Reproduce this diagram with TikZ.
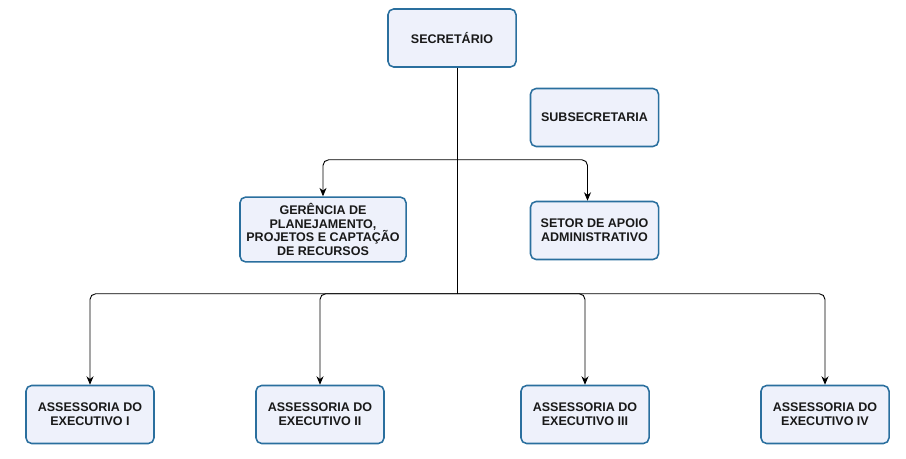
\documentclass[tikz,border=0pt]{standalone}
\usepackage{fontspec}
\setmainfont{Liberation Sans}
\usetikzlibrary{arrows.meta,calc,positioning}
\definecolor{boxfill}{HTML}{EEF1FB}
\definecolor{boxline}{HTML}{2A6F9E}

\begin{document}
\begin{tikzpicture}[x=0.025cm,y=-0.025cm,
  unit/.style={draw=boxline,fill=boxfill,line width=1.1pt,rounded corners=4pt,
    minimum width=3.2cm,minimum height=1.45cm,align=center,text=black!90,
    font=\bfseries\fontsize{8.9}{9.8}\selectfont},
  link/.style={-{Stealth[length=6pt,width=5pt]},line width=0.65pt,rounded corners=4pt}]
\useasboundingbox (0,0) rectangle (906,459);
% top
\node[unit] (S) at (452,38) {SECRET\'ARIO};
\node[unit] (SUB) at (594.5,117.5) {SUBSECRETARIA};
% middle
\node[unit,minimum width=4.15cm,minimum height=1.62cm] (GER) at (323,229.5)
  {GER\^ENCIA DE\\PLANEJAMENTO,\\PROJETOS E CAPTA\c{C}\~AO\\DE RECURSOS};
\node[unit] (SAA) at (594.5,230.5) {SETOR DE APOIO\\ADMINISTRATIVO};
% bottom
\node[unit] (A1) at (90,414.5) {ASSESSORIA DO\\EXECUTIVO I};
\node[unit] (A2) at (320,414.5) {ASSESSORIA DO\\EXECUTIVO II};
\node[unit] (A3) at (585,414.5) {ASSESSORIA DO\\EXECUTIVO III};
\node[unit] (A4) at (825,414.5) {ASSESSORIA DO\\EXECUTIVO IV};
% trunk
\coordinate (T) at ($(S.south)+(5,0)$);
\coordinate (J1) at ($(T)+(0,92)$);
\coordinate (J2) at ($(T)+(0,226)$);
\draw[line width=0.65pt] (T) -- (J2);
\draw[link] (J1) -| (GER.north);
\draw[link] (J1) -| ($(SAA.north)+(-7,0)$);
\foreach \n in {A1,A2,A3,A4}
  \draw[link] (J2) -| (\n.north);
\end{tikzpicture}
\end{document}
